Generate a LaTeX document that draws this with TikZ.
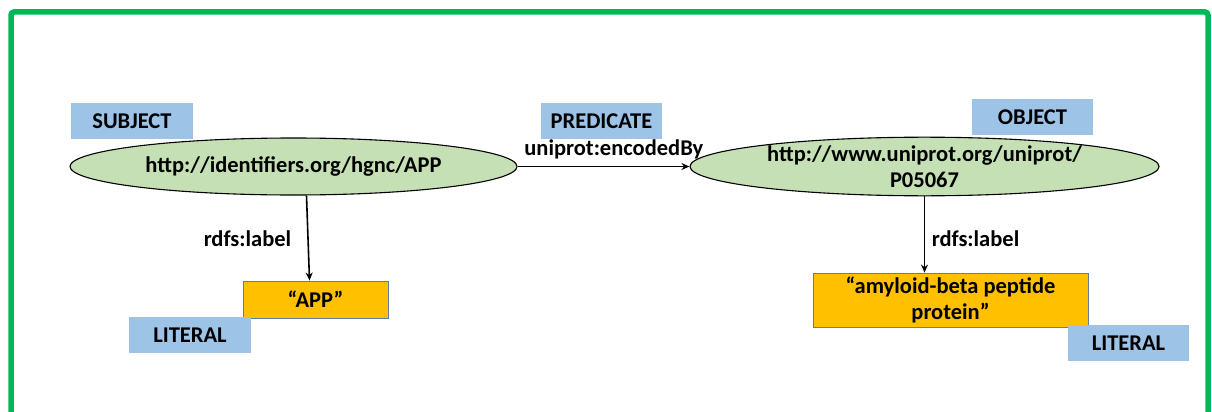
\documentclass[tikz,border=0pt]{standalone}
\usepackage{fontspec}
\setmainfont{Carlito}
\usetikzlibrary{shapes.geometric,arrows.meta,calc}
\definecolor{tagblue}{HTML}{9DC3E6}
\definecolor{nodegreen}{HTML}{C5E0B4}
\definecolor{litorange}{HTML}{FFC000}
\definecolor{litborder}{HTML}{5B7FA6}
\definecolor{framegreen}{HTML}{00B858}
\begin{document}
\begin{tikzpicture}[x=1pt,y=-1pt,
  txt/.style={font=\bfseries\fontsize{22.5}{25.5}\selectfont},
  tag/.style={txt, fill=tagblue, inner sep=0pt, minimum height=36pt},
  res/.style={txt, ellipse, draw=black, line width=1.1pt, fill=nodegreen, inner sep=0pt, minimum height=57pt, align=center},
  lit/.style={txt, draw=litborder, line width=0.9pt, fill=litorange, inner sep=0pt, align=center},
  arr/.style={line width=1.6pt, -{Stealth[length=8pt,width=7pt]}},
  lab/.style={txt, inner sep=0pt}]
\useasboundingbox (0,0) rectangle (1212,412);
\draw[framegreen, line width=5.5pt, rounded corners=3pt] (11,430) -- (11,12) -- (1208,12) -- (1208,430);

\node[res, minimum width=447pt] (subj) at (293.5,166.5) {http://identifiers.org/hgnc/APP};
\node[res, minimum width=469pt] (obj) at (924.5,166.5) {http://www.uniprot.org/uniprot/\\P05067};

\node[lit, minimum width=145pt, minimum height=37pt] (app) at (315.5,299.5) {“APP”};
\node[lit, minimum width=275pt, minimum height=54pt] (amy) at (950.5,300) {“amyloid-beta peptide\\protein”};

\node[tag, minimum width=122pt] (tsubj) at (132,121) {SUBJECT};
\node[tag, minimum width=121pt] (tpred) at (601.5,121) {PREDICATE};
\node[tag, minimum width=121pt] (tobj) at (1032.5,117) {OBJECT};
\node[tag, minimum width=122pt] (tlit1) at (190,335) {LITERAL};
\node[tag, minimum width=121pt] (tlit2) at (1128.5,343) {LITERAL};

\draw[arr] (subj.east) -- node[lab, pos=0.56, anchor=base, yshift=11.5pt] {uniprot:encodedBy} (obj.west);
\draw[arr] ($(subj.south)+(13,0)$) -- node[lab, anchor=base east, xshift=-16pt, yshift=-8pt] {rdfs:label} ($(app.north)+(-6,0)$);
\draw[arr] (obj.south) -- node[lab, anchor=base west, xshift=6.5pt, yshift=-12.3pt] {rdfs:label} (obj.south |- amy.north);
\end{tikzpicture}
\end{document}
